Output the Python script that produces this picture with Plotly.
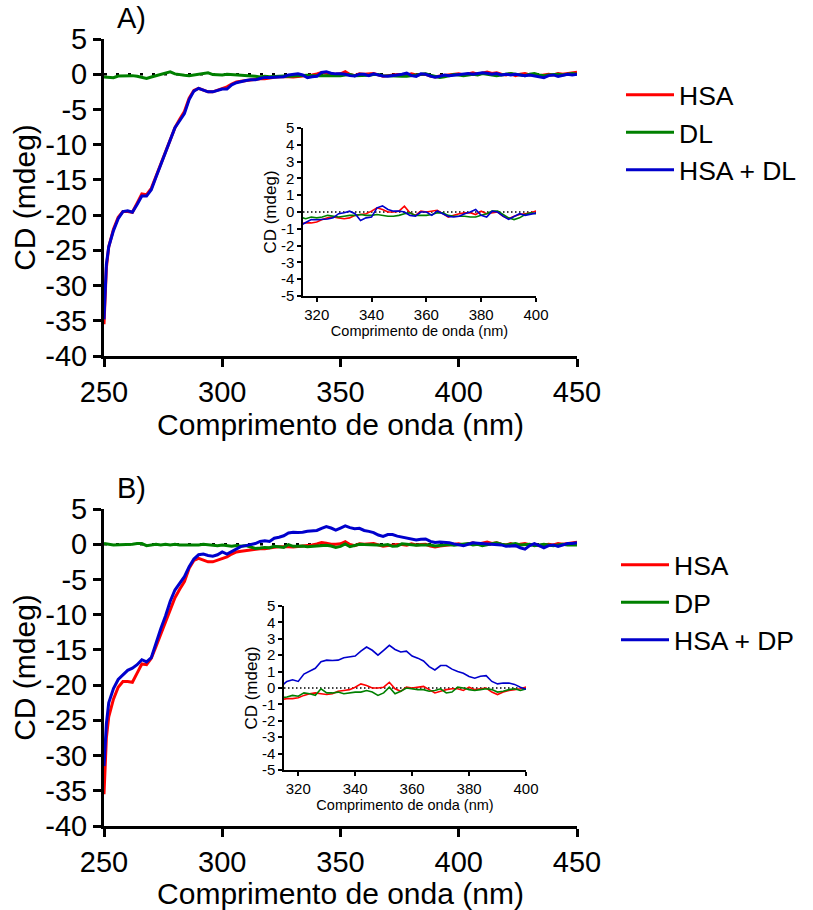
import plotly.graph_objects as go

# ---------------- data ----------------
wavelength = [250, 251] + list(range(252, 451, 2))

cd_hsa = [
    -35.5, -27.5, -24.5, -22.0, -20.3, -19.5, -19.5, -19.6, -18.3, -17.0,
    -17.1, -16.2, -14.5, -12.8, -11.0, -9.2, -7.6, -6.4, -5.3, -3.4,
    -2.3, -2.0, -2.2, -2.5, -2.5, -2.3, -2.1, -1.8, -1.4, -1.1,
    -1.0, -0.9, -0.8, -0.7, -0.65, -0.65, -0.6, -0.45, -0.35, -0.3,
    -0.35, -0.4, -0.35, -0.2, -0.15, -0.1, 0.05, 0.25, 0.15, 0.0,
    0.0, 0.05, 0.35, -0.05, -0.2, 0.05, 0.0, 0.05, 0.1, -0.1,
    -0.3, -0.2, -0.1, -0.05, -0.05, -0.15, 0.05, -0.1, -0.05, 0.0,
    -0.25, -0.4, -0.25, -0.15, -0.1, -0.05, 0.05, -0.1, 0.1, 0.2,
    0.0, 0.2, 0.3, 0.1, 0.2, 0.0, -0.1, 0.1, -0.2, 0.0,
    0.1, -0.1, 0.0, -0.2, -0.1, 0.0, -0.1, 0.1, 0.0, 0.1,
    0.2, 0.3,
]

cd_dl = [
    -0.4, -0.4, -0.5, -0.5, -0.25, -0.2, -0.2, -0.2, -0.3, -0.5,
    -0.6, -0.4, -0.2, 0.0, 0.25, 0.35, 0.05, -0.1, -0.15, -0.2,
    -0.1, -0.05, 0.0, 0.2, -0.05, -0.1, -0.1, 0.0, -0.05, -0.1,
    -0.05, -0.15, -0.2, -0.3, -0.4, -0.3, -0.35, -0.3, -0.2, -0.25,
    -0.3, -0.25, -0.2, -0.2, -0.15, -0.2, -0.2, -0.15, -0.2, -0.25,
    -0.25, -0.2, -0.1, -0.05, -0.2, -0.2, -0.2, -0.15, -0.05, -0.05,
    -0.2, -0.25, -0.25, -0.25, -0.3, -0.3, -0.2, -0.1, 0.05, 0.05,
    -0.15, -0.35, -0.45, -0.35, -0.15, -0.05, -0.1, -0.2, -0.1, 0.0,
    -0.1, 0.1, 0.0, -0.1, -0.2, -0.1, 0.0, 0.1, 0.0, -0.1,
    -0.2, 0.0, 0.1, -0.1, -0.2, -0.1, 0.0, 0.0, -0.1, 0.0,
    0.1, 0.0,
]

cd_hsa_dl = [
    -34.8, -27.0, -24.5, -22.2, -20.5, -19.5, -19.4, -19.6, -18.5, -17.3,
    -17.3, -16.4, -14.6, -12.8, -11.0, -9.3, -7.6, -6.6, -5.6, -3.6,
    -2.4, -2.0, -2.3, -2.5, -2.5, -2.3, -2.1, -2.1, -1.5, -1.2,
    -1.0, -0.9, -0.8, -0.8, -0.6, -0.45, -0.46, -0.44, -0.42, -0.35,
    -0.1, -0.05, 0.05, -0.1, -0.5, -0.35, -0.3, 0.25, 0.36, 0.15,
    0.05, 0.06, 0.0, -0.2, -0.25, 0.0, 0.0, -0.2, 0.06, -0.1,
    -0.26, -0.3, -0.25, -0.1, 0.0, 0.15, -0.2, -0.3, 0.05, 0.0,
    -0.25, -0.44, -0.28, -0.1, -0.2, -0.15, -0.1, 0.0, 0.1, 0.0,
    0.1, 0.2, 0.15, 0.0, 0.1, -0.1, 0.0, -0.1, 0.0, -0.1,
    -0.2, -0.1, -0.2, -0.3, -0.5, -0.2, -0.1, -0.3, -0.1, 0.0,
    -0.1, 0.0,
]

cd_dp = [
    0.1, 0.1, 0.0, -0.1, -0.1, 0.0, -0.1, 0.0, 0.1, 0.1,
    -0.2, -0.1, 0.0, -0.1, 0.0, -0.1, 0.0, -0.1, -0.1, -0.2,
    -0.2, -0.1, 0.0, -0.1, -0.2, -0.2, -0.1, -0.2, -0.3, -0.2,
    -0.3, -0.2, -0.4, -0.6, -0.55, -0.45, -0.5, -0.3, -0.35, -0.45,
    -0.05, -0.3, -0.3, -0.25, -0.35, -0.3, -0.25, -0.25, -0.15, -0.25,
    -0.45, -0.3, 0.05, -0.35, -0.2, 0.0, -0.05, -0.1, -0.1, -0.2,
    -0.15, -0.05, -0.3, -0.25, 0.05, 0.0, -0.1, -0.15, -0.1, -0.05,
    -0.1, -0.25, -0.2, -0.1, -0.05, -0.15, -0.05, 0.0, 0.1, -0.1,
    0.0, -0.2, -0.1, 0.0, 0.2, 0.0, -0.1, 0.0, 0.1, -0.1,
    -0.1, 0.0, -0.2, -0.1, 0.0, -0.1, -0.2, -0.1, 0.0, -0.1,
    -0.1, -0.1,
]

cd_hsa_dp = [
    -31.5, -25.5, -22.5, -20.5, -19.2, -18.5, -17.9, -17.6, -17.1, -16.4,
    -16.7, -16.1, -14.0, -12.0, -10.2, -8.1, -6.5, -5.6, -4.6, -3.2,
    -2.1, -1.5, -1.4, -1.6, -1.7, -1.5, -1.1, -1.4, -1.0, -0.6,
    -0.3, -0.2, -0.1, 0.1, 0.4, 0.5, 0.4, 0.85, 1.0, 1.2,
    1.6, 1.7, 1.68, 1.7, 1.85, 1.9, 1.95, 2.25, 2.5, 2.3,
    2.0, 2.3, 2.6, 2.35, 2.2, 2.25, 1.95, 1.82, 1.65, 1.3,
    1.1, 1.37, 1.37, 1.15, 1.0, 0.9, 0.7, 0.6, 0.72, 0.75,
    0.4, 0.25, 0.3, 0.3, 0.22, 0.05, -0.1, -0.2, 0.0, 0.2,
    0.15, 0.1, 0.1, 0.0, 0.0, -0.1, -0.3, -0.2, -0.2, -0.5,
    -0.7, -0.2, 0.1, -0.2, -0.5, -0.2, -0.1, -0.3, -0.1, 0.1,
    0.1, 0.2,
]

names_a = ["HSA", "DL", "HSA + DL"]
names_b = ["HSA", "DP", "HSA + DP"]
colors = ["#ff0000", "#008000", "#0000cc"]

main_xticks = [250, 300, 350, 400, 450]
main_yticks = [-40, -35, -30, -25, -20, -15, -10, -5, 0, 5]
main_ytext = ["-40", "-35", "-30", "-25", "-20", "-15", "-10", "-5", "0", "5"]
inset_xticks = [320, 340, 360, 380, 400]
inset_yticks = [-5, -4, -3, -2, -1, 0, 1, 2, 3, 4, 5]
inset_ytext = ["-5", "-4", "-3", "-2", "-1", "0", "1", "2", "3", "4", "5"]

# ---------------- layout helpers ----------------
W, H = 813, 910
FONT = "Liberation Sans, Arial, sans-serif"


def px_x(a, b):
    return [a / W, b / W]


def px_y(top, bottom):
    return [1 - bottom / H, 1 - top / H]


fig = go.Figure()

panels = [
    ("x", "y", "x3", "y3", names_a, [cd_hsa, cd_dl, cd_hsa_dl], "legend"),
    ("x2", "y2", "x4", "y4", names_b, [cd_hsa, cd_dp, cd_hsa_dp], "legend2"),
]

for mx, my, ix, iy, names, series, leg in panels:
    for name, col, vals in zip(names, colors, series):
        fig.add_trace(go.Scatter(
            x=wavelength, y=vals, mode="lines", name=name,
            line=dict(color=col, width=3), xaxis=mx, yaxis=my,
            legend=leg, showlegend=True))
    for name, col, vals in zip(names, colors, series):
        fig.add_trace(go.Scatter(
            x=wavelength, y=vals, mode="lines", name=name,
            line=dict(color=col, width=1.6), xaxis=ix, yaxis=iy,
            showlegend=False))
    fig.add_shape(type="line", xref=mx + " domain", yref=my,
                  x0=0, x1=1, y0=0, y1=0, layer="below",
                  line=dict(color="black", width=2.5, dash="3px,9px"))
    fig.add_shape(type="line", xref=ix + " domain", yref=iy,
                  x0=0, x1=1, y0=0, y1=0, layer="below",
                  line=dict(color="black", width=1.3, dash="1.5px,2.5px"))

main_axis = dict(showline=True, linewidth=3, linecolor="black", ticks="outside",
                 ticklen=8, tickwidth=3, tickcolor="black", showgrid=False,
                 zeroline=False, automargin=False,
                 tickfont=dict(family=FONT, size=29, color="black"))
inset_axis = dict(showline=True, linewidth=1.5, linecolor="black", ticks="outside",
                  ticklen=4, tickwidth=1.5, tickcolor="black", showgrid=False,
                  zeroline=False, automargin=False,
                  tickfont=dict(family=FONT, size=15, color="black"))

xt_main = dict(text="Comprimento de onda (nm)", font=dict(family=FONT, size=30, color="black"), standoff=3)
yt_main = dict(text="CD (mdeg)", font=dict(family=FONT, size=30, color="black"), standoff=1)
xt_in = dict(text="Comprimento de onda (nm)", font=dict(family=FONT, size=14.5, color="black"), standoff=4)
yt_in = dict(text="CD (mdeg)", font=dict(family=FONT, size=17, color="black"), standoff=0)

layout = dict(
    width=W, height=H,
    margin=dict(l=0, r=0, t=0, b=0),
    paper_bgcolor="white", plot_bgcolor="rgba(0,0,0,0)",
    font=dict(family=FONT, color="black"),
    xaxis=dict(main_axis, domain=px_x(104, 577), range=[250, 450], tickvals=main_xticks,
               anchor="y", title=xt_main),
    yaxis=dict(main_axis, domain=px_y(39, 356), range=[-40, 5], tickvals=main_yticks,
               ticktext=main_ytext, anchor="x", title=yt_main),
    xaxis2=dict(main_axis, domain=px_x(104, 577), range=[250, 450], tickvals=main_xticks,
                anchor="y2", title=xt_main),
    yaxis2=dict(main_axis, domain=px_y(509, 826), range=[-40, 5], tickvals=main_yticks,
                ticktext=main_ytext, anchor="x2", title=yt_main),
    xaxis3=dict(inset_axis, domain=px_x(303, 536), range=[315, 400], tickvals=inset_xticks,
                anchor="y3", title=xt_in),
    yaxis3=dict(inset_axis, domain=px_y(128, 296), range=[-5, 5], tickvals=inset_yticks,
                ticktext=inset_ytext, anchor="x3", title=yt_in),
    xaxis4=dict(inset_axis, domain=px_x(284, 526), range=[315, 400], tickvals=inset_xticks,
                anchor="y4", title=xt_in),
    yaxis4=dict(inset_axis, domain=px_y(606, 770), range=[-5, 5], tickvals=inset_yticks,
                ticktext=inset_ytext, anchor="x4", title=yt_in),
    legend=dict(x=621 / W, y=1 - 71 / H, xanchor="left", yanchor="top",
                font=dict(family=FONT, size=26.5, color="black"),
                bgcolor="rgba(0,0,0,0)", itemwidth=48, tracegroupgap=0),
    legend2=dict(x=616 / W, y=1 - 541 / H, xanchor="left", yanchor="top",
                 font=dict(family=FONT, size=26.5, color="black"),
                 bgcolor="rgba(0,0,0,0)", itemwidth=48, tracegroupgap=0),
    annotations=[
        dict(text="A)", x=115 / W, y=1 - 18 / H, xref="paper", yref="paper",
             xanchor="left", yanchor="middle", showarrow=False,
             font=dict(family=FONT, size=29, color="black")),
        dict(text="B)", x=115 / W, y=1 - 488 / H, xref="paper", yref="paper",
             xanchor="left", yanchor="middle", showarrow=False,
             font=dict(family=FONT, size=29, color="black")),
    ],
    showlegend=True,
)
fig.update_layout(layout)

fig.write_html("out.html")
